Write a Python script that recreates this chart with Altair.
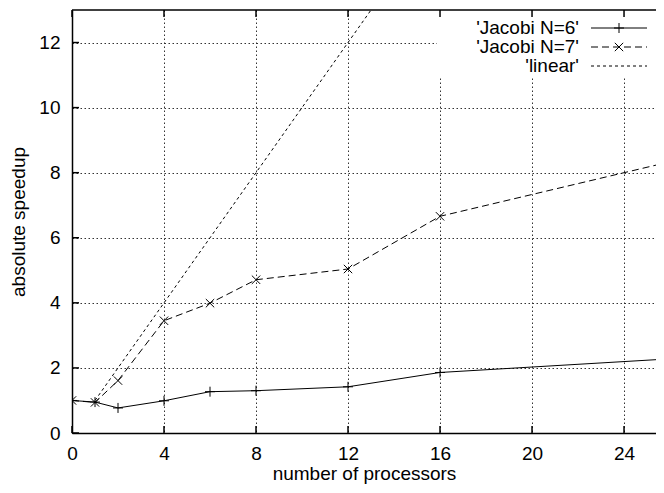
import altair as alt
import pandas as pd

# ---- data ----
procs = [0, 1, 2, 4, 6, 8, 12, 16, 32]
jacobi6 = [1.0, 0.95, 0.77, 0.99, 1.27, 1.30, 1.42, 1.86, 2.53]
jacobi7 = [1.0, 0.94, 1.61, 3.45, 3.99, 4.71, 5.04, 6.66, 9.34]
linear_x = [1, 2, 4, 8, 16, 32]
linear_y = [1, 2, 4, 8, 16, 32]
x_ticks = [0, 4, 8, 12, 16, 20, 24]
y_ticks = [0, 2, 4, 6, 8, 10, 12]
legend_labels = ["'Jacobi N=6'", "'Jacobi N=7'", "'linear'"]

W, H = 584, 423
FONT = "Liberation Sans"
FS = 19

xs = alt.Scale(domain=[0, 25.39], nice=False, zero=False)
ys = alt.Scale(domain=[0, 13], nice=False, zero=False)

X_AXIS = alt.Axis(title="number of processors", values=x_ticks, grid=True,
                  gridDash=[1.5, 2.5], gridColor="#333", gridWidth=1,
                  ticks=False, domain=True, domainColor="black", domainWidth=1.5,
                  labelFont=FONT, labelFontSize=FS, labelColor="black",
                  labelPadding=11, labelFlush=False,
                  titleFont=FONT, titleFontSize=FS, titleFontWeight="normal",
                  titleColor="black", titlePadding=1)
Y_AXIS = alt.Axis(title="absolute speedup", values=y_ticks, grid=True,
                  gridDash=[1.5, 2.5], gridColor="#333", gridWidth=1,
                  ticks=False, domain=True, domainColor="black", domainWidth=1.5,
                  labelFont=FONT, labelFontSize=FS, labelColor="black",
                  labelPadding=12, labelFlush=False,
                  titleFont=FONT, titleFontSize=FS, titleFontWeight="normal",
                  titleColor="black", titlePadding=10)

def X(field):
    return alt.X(field, type="quantitative", scale=xs, axis=X_AXIS)

def Y(field):
    return alt.Y(field, type="quantitative", scale=ys, axis=Y_AXIS)

df6 = pd.DataFrame({"p": procs, "s": jacobi6})
df7 = pd.DataFrame({"p": procs, "s": jacobi7})
dfl = pd.DataFrame({"p": linear_x, "s": linear_y})

PLUS = "M-1,0H1M0,-1V1"
CROSS = "M-1,-1L1,1M-1,1L1,-1"

line6 = alt.Chart(df6).mark_line(color="black", strokeWidth=1, clip=True).encode(x=X("p"), y=Y("s"))
pts6 = alt.Chart(df6).mark_point(shape=PLUS, filled=False, size=100, color="black",
                                 strokeWidth=1, opacity=1, clip=True).encode(x=X("p"), y=Y("s"))
line7 = alt.Chart(df7).mark_line(color="black", strokeWidth=1, strokeDash=[7, 4], clip=True).encode(x=X("p"), y=Y("s"))
pts7 = alt.Chart(df7).mark_point(shape=CROSS, filled=False, size=70, color="black",
                                 strokeWidth=1, opacity=1, clip=True).encode(x=X("p"), y=Y("s"))
linel = alt.Chart(dfl).mark_line(color="black", strokeWidth=1, strokeDash=[3, 3], clip=True).encode(x=X("p"), y=Y("s"))

# legend background (gnuplot key hides grid)
one = pd.DataFrame({"k": [0]})
keybox = alt.Chart(one).mark_rect(fill="white").encode(
    x=alt.value(365), x2=alt.value(584), y=alt.value(0), y2=alt.value(68))

# inward border ticks
xt = pd.DataFrame({"t": x_ticks})
yt = pd.DataFrame({"t": y_ticks})
bt = alt.Chart(xt).mark_rule(color="black", strokeWidth=1.5).encode(
    x=X("t"), y=alt.value(H), y2=alt.value(H - 7))
tt = alt.Chart(xt).mark_rule(color="black", strokeWidth=1.5).encode(
    x=X("t"), y=alt.value(0), y2=alt.value(7))
lt = alt.Chart(yt).mark_rule(color="black", strokeWidth=1.5).encode(
    y=Y("t"), x=alt.value(0), x2=alt.value(7))
topb = alt.Chart(one).mark_rule(color="black", strokeWidth=1.5).encode(
    x=alt.value(0), x2=alt.value(W), y=alt.value(0))

# legend
ly = [18, 37, 56]
dashes = [None, [7, 4], [3, 3]]
shapes = [PLUS, CROSS, None]
sizes = [100, 70, None]
leg = []
for i, lab in enumerate(legend_labels):
    d = pd.DataFrame({"label": [lab]})
    leg.append(alt.Chart(d).mark_text(align="right", baseline="middle", font=FONT,
                                      fontSize=FS, color="black").encode(
        text="label:N", x=alt.value(507), y=alt.value(ly[i])))
    rk = dict(color="black", strokeWidth=1)
    if dashes[i]:
        rk["strokeDash"] = dashes[i]
    leg.append(alt.Chart(d).mark_rule(**rk).encode(
        x=alt.value(519), x2=alt.value(575), y=alt.value(ly[i])))
    if shapes[i]:
        leg.append(alt.Chart(d).mark_point(shape=shapes[i], filled=False, size=sizes[i],
                                           color="black", strokeWidth=1, opacity=1).encode(
            x=alt.value(547), y=alt.value(ly[i])))

chart = alt.layer(linel, line6, pts6, line7, pts7, keybox, bt, tt, lt, topb, *leg).properties(
    width=W, height=H,
    padding={"left": 64, "top": 2, "right": 0, "bottom": 52},
    autosize=alt.AutoSizeParams(type="none"),
    background="white",
).configure_view(strokeWidth=0)

chart.save("out.html", embed_options={"renderer": "svg", "actions": False})
